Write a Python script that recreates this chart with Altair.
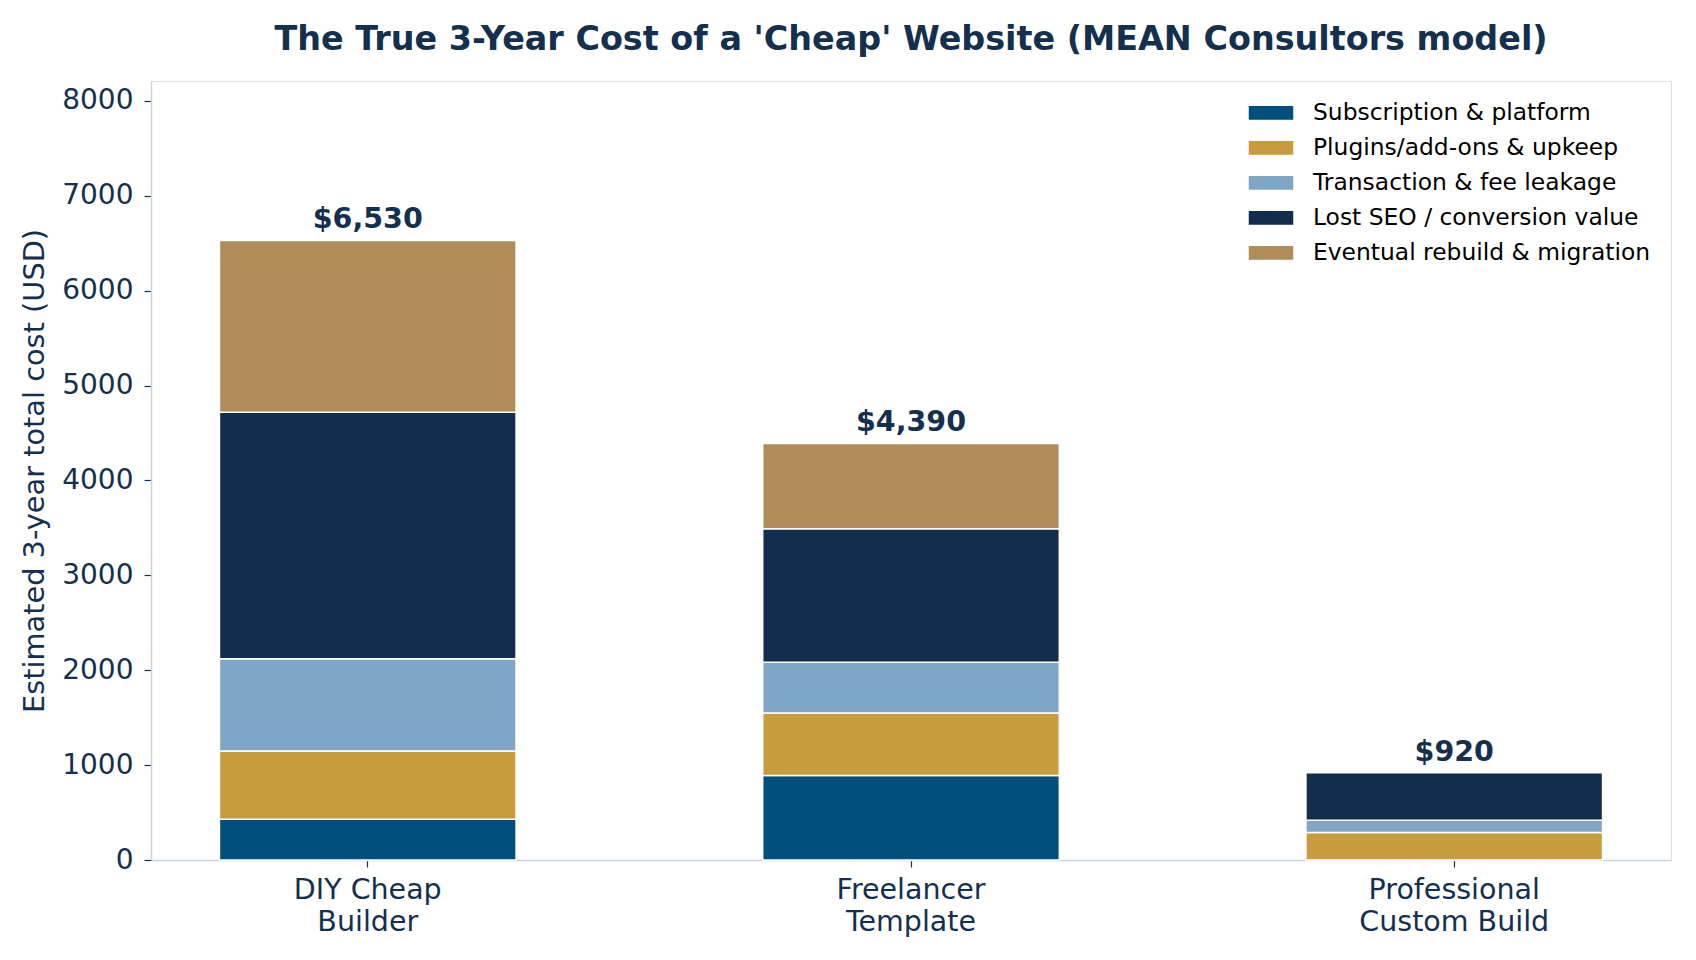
import altair as alt
import pandas as pd

categories = ["DIY Cheap\nBuilder", "Freelancer\nTemplate", "Professional\nCustom Build"]
series = ["Subscription & platform", "Plugins/add-ons & upkeep", "Transaction & fee leakage",
          "Lost SEO / conversion value", "Eventual rebuild & migration"]
subscription = [430, 890, 0]
plugins = [720, 660, 290]
transaction = [970, 535, 130]
lost_seo = [2600, 1405, 500]
rebuild = [1810, 900, 0]
colors = ["#004f7d", "#c89b3c", "#7fa6c6", "#122e4d", "#b08c58"]

TEXT = "#13304f"
FONT = "DejaVu Sans"

rows = []
for i, s in enumerate(series):
    vals = [subscription, plugins, transaction, lost_seo, rebuild][i]
    for c, v in zip(categories, vals):
        rows.append({"category": c, "series": s, "order": i, "value": v})
df = pd.DataFrame(rows)

x = alt.X("category:N", sort=categories, title=None,
          scale=alt.Scale(paddingInner=0.454, paddingOuter=0.126),
          axis=alt.Axis(labelExpr="split(datum.value, '\\n')", labelAngle=0,
                        labelFontSize=28.5, labelColor=TEXT, labelFont=FONT,
                        labelLineHeight=32, labelPadding=8, labelLimit=0,
                        tickColor=TEXT, tickSize=7, tickWidth=1.2,
                        domainColor="#c9d2de", domainWidth=1.5))

bars = alt.Chart(df).transform_filter("datum.value > 0").mark_bar(
    stroke="white", strokeWidth=1.5
).encode(
    x=x,
    y=alt.Y("sum(value):Q", title="Estimated 3-year total cost (USD)",
            scale=alt.Scale(domain=[0, 8210], nice=False),
            axis=alt.Axis(values=list(range(0, 8001, 1000)), grid=False, format="d",
                          labelFontSize=28, labelColor=TEXT, labelFont=FONT,
                          labelPadding=11, tickColor=TEXT, tickSize=7, tickWidth=1.2,
                          domainColor="#c9d2de", domainWidth=1.5,
                          titleFontSize=28.8, titleFont=FONT, titleColor=TEXT,
                          titleFontWeight="normal", titlePadding=12)),
    color=alt.Color("series:N", sort=series,
                    scale=alt.Scale(domain=series, range=colors),
                    legend=alt.Legend(title=None, orient="none", legendX=1096, legendY=14.5,
                                      labelFontSize=23.4, labelFont=FONT, labelColor="black",
                                      labelLimit=0, clipHeight=34.6,
                                      symbolType="M-1,-0.33L1,-0.33L1,0.33L-1,0.33Z",
                                      symbolSize=2116, symbolStrokeColor="white",
                                      symbolStrokeWidth=1.5, symbolOpacity=1,
                                      labelOffset=18, rowPadding=0, padding=0)),
    order=alt.Order("order:Q", sort="ascending"),
)

totals = alt.Chart(df).mark_text(
    fontSize=28.5, fontWeight="bold", font=FONT, color=TEXT, baseline="alphabetic", dy=-12
).encode(
    x=alt.X("category:N", sort=categories),
    y=alt.Y("sum(value):Q"),
    text=alt.Text("sum(value):Q", format="$,.0f"),
)

chart = alt.layer(bars, totals).properties(
    width=1520, height=779,
    autosize=alt.AutoSizeParams(type="none"),
    padding={"left": 151, "top": 81, "right": 25, "bottom": 100},
    title=alt.Title("The True 3-Year Cost of a 'Cheap' Website (MEAN Consultors model)",
                    fontSize=33.4, font=FONT, fontWeight="bold", color=TEXT,
                    anchor="middle", offset=24),
).configure_view(fill="#f2f6f9", stroke="transparent", strokeWidth=0).configure(background="white")

chart.save("out.html", embed_options={"renderer": "svg", "actions": False})
